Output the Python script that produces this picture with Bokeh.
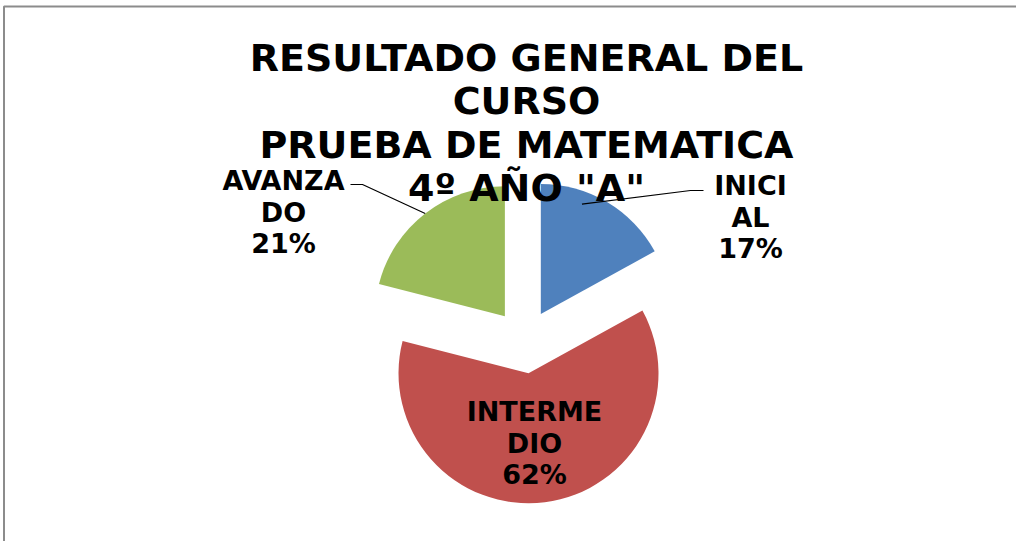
import numpy as np
from bokeh.plotting import figure
from bokeh.models import Range1d
from bokeh.core.properties import value
from bokeh.embed import file_html
from bokeh.resources import INLINE

# ---- data ----
categories = ["INICIAL", "INTERMEDIO", "AVANZADO"]
percentages = [17, 62, 21]
label_lines = [["INICI", "AL"], ["INTERME", "DIO"], ["AVANZA", "DO"]]
colors = ["#4F81BD", "#C0504D", "#9BBB59"]
title_lines = ["RESULTADO GENERAL DEL", "CURSO", "PRUEBA DE MATEMATICA", '4º AÑO "A"']

# ---- layout (pixel coordinates, y measured from top) ----
W, H = 1016, 541
def sy(y):
    return H - y

cx, cy = 524, sy(341)
R = 130
EXPLODE = 32
FONT = value("DejaVu Sans")

p = figure(width=W, height=H, output_backend="svg", toolbar_location=None,
           x_range=Range1d(0, W), y_range=Range1d(0, H),
           x_axis_type=None, y_axis_type=None, min_border=0,
           background_fill_color="white", border_fill_color="white")
p.grid.visible = False
p.outline_line_color = None

# border of chart area (left and top)
p.line(x=[3.5, 3.5, W], y=[0, sy(6), sy(6)], line_color="#8C8C8C", line_width=2)

vals = np.array(percentages, dtype=float)
frac = vals / vals.sum()
cum_end = np.cumsum(frac)
cum_start = cum_end - frac
start = np.pi / 2 - 2 * np.pi * cum_start
end = np.pi / 2 - 2 * np.pi * cum_end
mid = np.pi / 2 - 2 * np.pi * (cum_start + frac / 2)
ox = cx + EXPLODE * np.cos(mid)
oy = cy + EXPLODE * np.sin(mid)

p.wedge(x=list(ox), y=list(oy), radius=R, start_angle=list(start),
        end_angle=list(end), direction="clock", fill_color=colors,
        line_color=None)

# leader lines (INICIAL, AVANZADO)
arc_x = ox + R * np.cos(mid)
arc_y = oy + R * np.sin(mid)
p.line(x=[arc_x[0] - 25, 690, 703], y=[arc_y[0] - 2, sy(190), sy(190)],
       line_color="black", line_width=1.2)
p.line(x=[arc_x[2], 362, 350], y=[arc_y[2], sy(184), sy(184)],
       line_color="black", line_width=1.2)

# data labels (baseline compensation for bokeh text placement)
LBL_SIZE = 27
label_anchor = [(750, 197), (534, 423), (283, 192)]
LBL_PITCH = 31.5
for i in range(len(categories)):
    ax, ay = label_anchor[i]
    lines = label_lines[i] + [f"{percentages[i]}%"]
    p.text(x=[ax] * len(lines),
           y=[sy(ay + k * LBL_PITCH - 0.43 * LBL_SIZE) for k in range(len(lines))],
           text=lines, text_align="center", text_baseline="alphabetic",
           text_font=FONT, text_font_style="bold", text_font_size=f"{LBL_SIZE}px",
           text_color="black")

# title
TITLE_SIZE = 38
title_base = [73, 116, 160, 203]
p.text(x=[526] * len(title_lines), y=[sy(b - 0.41 * TITLE_SIZE) for b in title_base],
       text=title_lines, text_align="center", text_baseline="alphabetic",
       text_font=FONT, text_font_style="bold", text_font_size=f"{TITLE_SIZE}px",
       text_color="black")

open("out.html", "w").write(file_html(p, INLINE))
